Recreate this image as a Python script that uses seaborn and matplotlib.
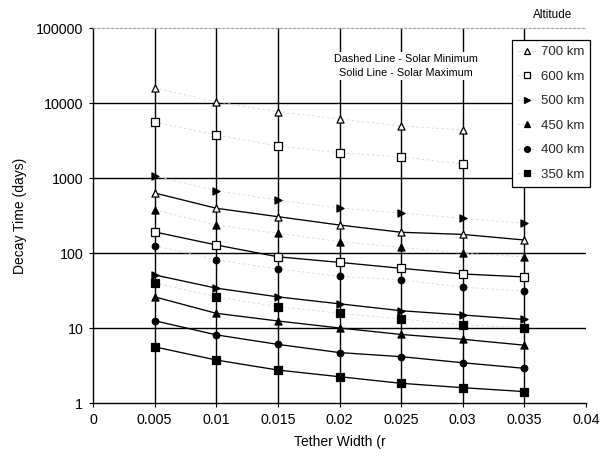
import numpy as np
import pandas as pd
import matplotlib
matplotlib.use("Agg")
import matplotlib.pyplot as plt
import seaborn as sns
from matplotlib.lines import Line2D
from matplotlib.ticker import FixedLocator, FixedFormatter, NullLocator

# ---------------- data ----------------
widths = [0.005, 0.01, 0.015, 0.02, 0.025, 0.03, 0.035]
altitudes = ["700 km", "600 km", "500 km", "450 km", "400 km", "350 km"]

# Solar minimum (dashed lines)
solar_min_700 = [15850, 10400, 7650, 6120, 4940, 4370, np.nan]
solar_min_600 = [5580, 3740, 2670, 2170, 1920, 1540, np.nan]
solar_min_500 = [1063, 677, 509, 400, 340, 290, 249]
solar_min_450 = [374, 236, 183, 142, 119, 99, 89]
solar_min_400 = [125, 81, 61, 49, 43.6, 35, 31]
solar_min_350 = [40, 26, 19.2, 15.7, 13.2, 11, 10.1]

# Solar maximum (solid lines)
solar_max_700 = [631, 395, 305, 236, 189, 177, 149]
solar_max_600 = [191, 128, 89, 75, 62.5, 52.5, 48]
solar_max_500 = [51, 34, 26, 21, 17, 14.9, 13]
solar_max_450 = [26, 15.7, 12.4, 10, 8.2, 7.07, 5.9]
solar_max_400 = [12.5, 8.1, 6.05, 4.7, 4.15, 3.44, 2.9]
solar_max_350 = [5.6, 3.74, 2.75, 2.24, 1.83, 1.6, 1.42]

x_ticks = [0, 0.005, 0.01, 0.015, 0.02, 0.025, 0.03, 0.035, 0.04]
x_tick_labels = ["0", "0.005", "0.01", "0.015", "0.02", "0.025", "0.03", "0.035", "0.04"]
y_ticks = [1, 10, 100, 1000, 10000, 100000]
y_tick_labels = ["1", "10", "100", "1000", "10000", "100000"]

title_legend = "Altitude"
note_lines = ["Dashed Line - Solar Minimum", "Solid Line - Solar Maximum"]
x_label = "Tether Width (r"
y_label = "Decay Time (days)"

# ---------------- style ----------------
sns.set_theme(style="white")
plt.rcParams["font.family"] = ["Liberation Sans", "DejaVu Sans"]

markers = {"700 km": ("^", "white"), "600 km": ("s", "white"), "500 km": (">", "black"),
           "450 km": ("^", "black"), "400 km": ("o", "black"), "350 km": ("s", "black")}

mins = dict(zip(altitudes, [solar_min_700, solar_min_600, solar_min_500,
                            solar_min_450, solar_min_400, solar_min_350]))
maxs = dict(zip(altitudes, [solar_max_700, solar_max_600, solar_max_500,
                            solar_max_450, solar_max_400, solar_max_350]))

rows = []
for alt in altitudes:
    for w, v in zip(widths, mins[alt]):
        rows.append({"width": w, "days": v, "alt": alt, "cond": "min"})
    for w, v in zip(widths, maxs[alt]):
        rows.append({"width": w, "days": v, "alt": alt, "cond": "max"})
df = pd.DataFrame(rows).dropna()

fig = plt.figure(figsize=(6.13, 4.65), dpi=100)
ax = fig.add_axes([93 / 613, 1 - 403 / 465, (586 - 93) / 613, (403 - 28) / 465])
ax.set_yscale("log")
ax.set_xlim(0, 0.04)
ax.set_ylim(1, 100000)

for alt in altitudes:
    m, fc = markers[alt]
    dmin = df[(df.alt == alt) & (df.cond == "min")]
    dmax = df[(df.alt == alt) & (df.cond == "max")]
    sns.lineplot(data=dmin, x="width", y="days", ax=ax, color="#d6d6d6",
                 linewidth=0.6, linestyle=(0, (3, 3)), legend=False, zorder=2)
    sns.lineplot(data=dmax, x="width", y="days", ax=ax, color="black",
                 linewidth=0.95, legend=False, zorder=3)
    size = 26 if m != "o" else 22
    sns.scatterplot(data=pd.concat([dmin, dmax]), x="width", y="days", ax=ax,
                    marker=m, s=size, color=fc, edgecolor="black", linewidth=0.9,
                    legend=False, zorder=4)

# grid
ax.xaxis.set_major_locator(FixedLocator(x_ticks))
ax.xaxis.set_major_formatter(FixedFormatter(x_tick_labels))
ax.yaxis.set_major_locator(FixedLocator(y_ticks))
ax.yaxis.set_major_formatter(FixedFormatter(y_tick_labels))
ax.yaxis.set_minor_locator(NullLocator())
ax.grid(True, axis="both", color="black", linewidth=1.0)
ax.set_axisbelow(True)
xgl = ax.get_xgridlines()
xgl[0].set_visible(False)
xgl[-1].set_visible(False)
ygl = ax.get_ygridlines()
ygl[0].set_visible(False)
ygl[-1].set_visible(False)

for side in ["left", "bottom"]:
    ax.spines[side].set_color("black")
    ax.spines[side].set_linewidth(1.0)
ax.spines["right"].set_visible(False)
ax.spines["top"].set_color("#a0a0a0")
ax.spines["top"].set_linewidth(0.8)
ax.spines["top"].set_linestyle((0, (2, 2)))

ax.tick_params(axis="both", which="major", direction="out", length=3, width=0.8,
               color="black", labelsize=10.3, labelcolor="black", pad=4, left=True, bottom=True)
ax.set_xlabel(x_label, fontsize=10, color="black")
ax.set_ylabel(y_label, fontsize=10, color="black")
ax.xaxis.set_label_coords(0.5, -(442 - 403) / 375)
ax.yaxis.set_label_coords((20 - 93) / 493, 0.5)
ax.xaxis.label.set_va("center")
ax.yaxis.label.set_va("center")

# annotation
ax.text(0.0254, 10 ** 4.493, "\n".join(note_lines), ha="center", va="center",
        fontsize=7.8, color="black", linespacing=1.4, zorder=6,
        bbox=dict(facecolor="white", edgecolor="none", pad=2))

# legend
handles = []
for alt in altitudes:
    m, fc = markers[alt]
    handles.append(Line2D([0], [0], color="#c8c8c8", linestyle=(0, (2, 2)), linewidth=0.6,
                          marker=m, markersize=4.2, markerfacecolor=fc,
                          markeredgecolor="black", markeredgewidth=0.9))
leg = fig.legend(handles, altitudes, loc="upper left",
                 bbox_to_anchor=(512 / 613, 1 - 40 / 465), frameon=True, fancybox=False,
                 edgecolor="black", facecolor="white", framealpha=1, fontsize=9.5,
                 handlelength=1.3, handletextpad=0.45, labelspacing=0.93,
                 borderpad=0.45, borderaxespad=0)
leg.get_frame().set_linewidth(0.9)
fig.text(553 / 613, 1 - 15 / 465, title_legend, ha="center", va="center",
         fontsize=8.5, color="black")

fig.savefig("out.png", dpi=100)
